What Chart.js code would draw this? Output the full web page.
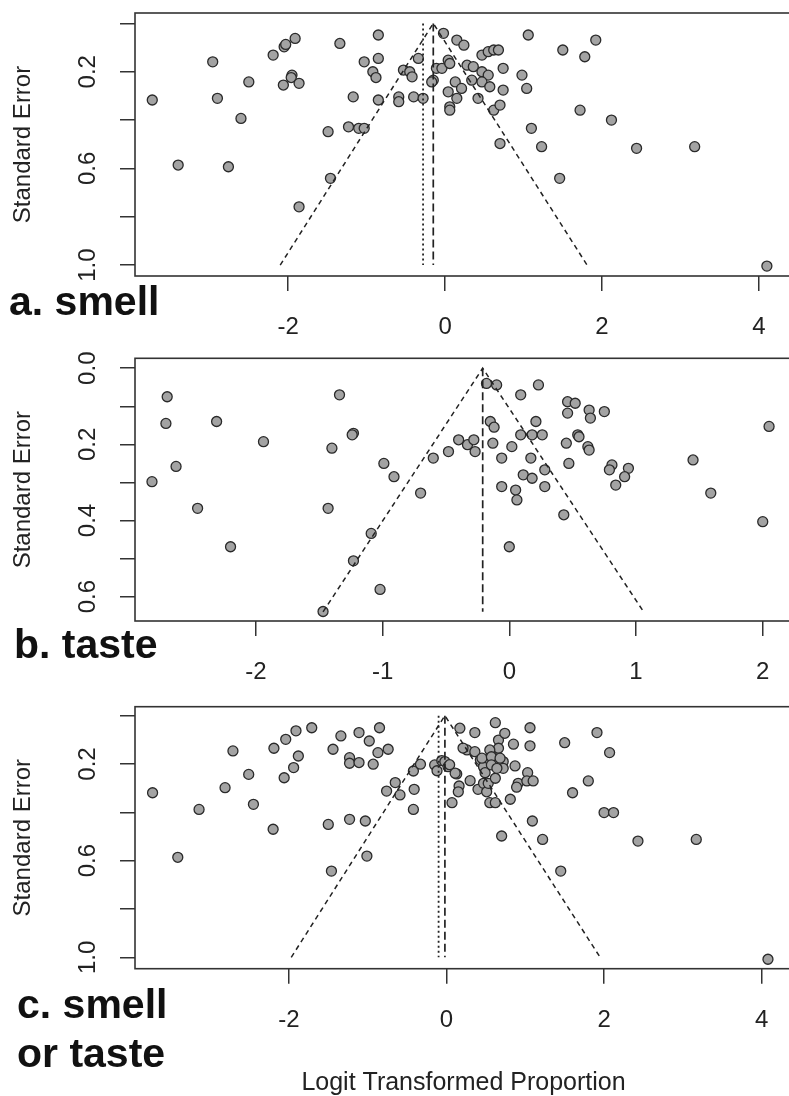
<!DOCTYPE html>
<html>
<head>
<meta charset="utf-8">
<script src="https://cdn.jsdelivr.net/npm/chart.js@4.4.1/dist/chart.umd.min.js"></script>
<style>
  html, body { margin: 0; padding: 0; background: #fff; width: 789px; height: 1096px; overflow: hidden; position: relative; }
  canvas { position: absolute; left: 0; }
  .lab { position: absolute; font: bold 41px 'Liberation Sans', Arial, sans-serif; color: #111; line-height: 49px; white-space: nowrap; }
</style>
</head>
<body>
<canvas id="panelA" width="800" height="350" style="top:0px"></canvas>
<canvas id="panelB" width="800" height="360" style="top:330px"></canvas>
<canvas id="panelC" width="800" height="406" style="top:690px"></canvas>
<div class="lab" style="left:9px;top:277px">a. smell</div>
<div class="lab" style="left:14px;top:620px">b. taste</div>
<div class="lab" style="left:17px;top:980px">c. smell<br>or taste</div>
<script>
// a. smell: logit proportion vs standard error
const smellX = [-3.73, -3.40, -2.96, -2.90, -2.76, -2.60, -2.50, -2.19, -2.05, -2.03, -1.91, -2.06, -1.95, -1.96, -1.86,
  -1.86, -1.49, -1.46, -1.34, -1.23, -1.10, -1.03, -1.17, -1.03, -0.92, -0.88, -0.85, -0.85, -0.85,
  -0.59, -0.59, -0.40, -0.28, -0.53, -0.45, -0.42, -0.34, -0.02, 0.15, 0.24, 0.04, -0.11, -0.04, 0.06,
  -0.15, -0.17, 0.13, 0.04, 0.21, 0.15, 0.06, 0.06, 0.28, 0.36, 0.47, 0.55, 0.62, 0.68, 0.47, 0.55,
  0.34, 0.47, 0.57, 0.42, 0.62, 0.70, 0.74, 0.74, 0.70, 0.98, 1.04, 1.06, 1.10, 1.23, 1.46, 1.50,
  1.72, 1.78, 1.92, 2.12, 2.44, 3.18, 4.10];
const smellSE = [0.317, 0.586, 0.159, 0.310, 0.593, 0.393, 0.242, 0.131, 0.097, 0.087, 0.062, 0.255, 0.214, 0.224, 0.248,
  0.759, 0.448, 0.641, 0.083, 0.428, 0.434, 0.434, 0.304, 0.159, 0.200, 0.224, 0.048, 0.145, 0.317,
  0.304, 0.324, 0.304, 0.310, 0.193, 0.200, 0.221, 0.145, 0.041, 0.069, 0.090, 0.152, 0.186, 0.186, 0.166,
  0.235, 0.242, 0.242, 0.283, 0.269, 0.310, 0.345, 0.359, 0.173, 0.179, 0.131, 0.117, 0.110, 0.110, 0.200, 0.214,
  0.235, 0.242, 0.262, 0.310, 0.359, 0.338, 0.186, 0.276, 0.497, 0.214, 0.269, 0.048, 0.434, 0.510, 0.641, 0.110,
  0.359, 0.138, 0.069, 0.400, 0.517, 0.510, 1.004];

// b. taste
const tasteX = [-2.70, -2.71, -2.63, -2.82, -2.31, -2.46, -2.20, -1.94, -1.34, -1.23, -1.24, -1.40, -1.43, -1.23,
  -1.09, -1.02, -1.47, -0.99, -0.91, -0.70, -0.60, -0.48, -0.40, -0.33, -0.28, -0.27, -0.18, -0.10, -0.15,
  -0.12, -0.13, 0.09, 0.23, 0.21, 0.09, 0.18, 0.26, 0.02, -0.06, 0.17, 0.28, 0.11, 0.18, -0.06, 0.05, 0.06,
  0.28, 0.00, 0.43, 0.47, 0.45, 0.46, 0.52, 0.46, 0.63, 0.64, 0.75, 0.54, 0.55, 0.62, 0.63, 0.81, 0.79,
  0.94, 0.91, 0.84, 1.45, 1.59, 2.00, 2.05];
const tasteSE = [0.075, 0.145, 0.258, 0.298, 0.140, 0.368, 0.469, 0.193, 0.070, 0.171, 0.175, 0.210, 0.368, 0.506,
  0.434, 0.581, 0.639, 0.250, 0.285, 0.328, 0.236, 0.219, 0.188, 0.201, 0.188, 0.219, 0.040, 0.044, 0.140,
  0.155, 0.197, 0.070, 0.044, 0.140, 0.175, 0.175, 0.175, 0.206, 0.236, 0.236, 0.267, 0.280, 0.289, 0.311, 0.320, 0.346,
  0.311, 0.469, 0.385, 0.250, 0.197, 0.088, 0.092, 0.118, 0.110, 0.131, 0.114, 0.175, 0.180, 0.206, 0.215, 0.254, 0.267,
  0.263, 0.285, 0.307, 0.241, 0.328, 0.403, 0.153];

// c. smell or taste
const anyX = [-3.73, -3.41, -3.14, -2.81, -2.71, -2.51, -2.45, -2.20, -2.19, -2.04, -1.91, -1.71, -2.06, -1.94, -1.88,
  -1.50, -1.46, -1.44, -1.34, -1.23, -1.03, -1.01, -1.23, -1.23, -1.11, -1.11, -0.98, -0.93, -0.87, -0.85,
  -0.74, -0.76, -0.65, -0.59, -0.42, -0.41, -0.42, -0.33, -0.15, -0.12, -0.06, -0.02, 0.02, 0.07, 0.13, 0.17,
  0.16, 0.15, 0.30, 0.36, 0.26, 0.36, 0.43, 0.40, 0.47, 0.49, 0.47, 0.51, 0.53, 0.55, 0.57, 0.62, 0.66, 0.66,
  0.74, 0.62, 0.64, 0.72, 0.72, 0.55, 0.62, 0.85, 0.87, 0.81, 0.91, 0.89, 1.03, 1.06, 1.06, 1.02, 1.10, 1.09,
  0.70, 1.22, 1.45, 1.50, 1.60, 1.80, 1.91, 2.07, 2.00, 2.12, 2.43, 3.17, 4.08,
  0.21, 0.45, 0.55, 0.57, 0.68, 0.57, 0.64, 0.04, 0.11];
const anySE = [0.319, 0.586, 0.388, 0.298, 0.146, 0.243, 0.367, 0.470, 0.135, 0.098, 0.063, 0.050, 0.257, 0.215, 0.167,
  0.450, 0.643, 0.139, 0.084, 0.429, 0.436, 0.581, 0.174, 0.197, 0.194, 0.070, 0.105, 0.201, 0.153, 0.050,
  0.139, 0.312, 0.277, 0.328, 0.388, 0.305, 0.229, 0.201, 0.204, 0.228, 0.186, 0.190, 0.211, 0.360, 0.241, 0.052,
  0.291, 0.315, 0.269, 0.070, 0.142, 0.149, 0.183, 0.305, 0.211, 0.236, 0.280, 0.315, 0.280, 0.183, 0.149, 0.029, 0.101, 0.135,
  0.073, 0.259, 0.183, 0.190, 0.218, 0.360, 0.360, 0.118, 0.208, 0.346, 0.280, 0.296, 0.236, 0.050, 0.125, 0.270, 0.270, 0.436,
  0.498, 0.512, 0.643, 0.112, 0.319, 0.270, 0.070, 0.153, 0.401, 0.401, 0.519, 0.512, 1.008,
  0.134, 0.176, 0.142, 0.170, 0.176, 0.204, 0.218, 0.203, 0.238];

// funnel outlines (left bottom, apex, right bottom) and vertical estimate lines
const funnelAX = [-2.10, -0.15, 1.81], funnelAY = [1.0, 0, 1.0];
const funnelBX = [-1.47, -0.21, 1.06], funnelBY = [0.64, 0, 0.64];
const funnelCX = [-1.97, -0.02, 1.95], funnelCY = [1.0, 0, 1.0];
const estA = -0.15, estDotA = -0.28;
const estB = -0.21;
const estC = -0.02, estDotC = -0.10;

// axes
const xTicksAC = [-2, 0, 2, 4], xLabelsAC = ['-2', '0', '2', '4'];
const xTicksB = [-2, -1, 0, 1, 2], xLabelsB = ['-2', '-1', '0', '1', '2'];
const yTicksAC = [0, 0.2, 0.4, 0.6, 0.8, 1.0], yLabelsAC = ['', '0.2', '', '0.6', '', '1.0'];
const yTicksB = [0, 0.1, 0.2, 0.3, 0.4, 0.5, 0.6], yLabelsB = ['0.0', '', '0.2', '', '0.4', '', '0.6'];

const FONT = "'Liberation Sans', Arial, sans-serif";
const INK = '#222';

const boxPlugin = {
  id: 'box',
  afterDraw(chart) {
    const { ctx, chartArea: a } = chart;
    ctx.save();
    ctx.strokeStyle = '#333';
    ctx.lineWidth = 1.6;
    ctx.strokeRect(a.left, a.top, a.right - a.left, a.bottom - a.top);
    ctx.restore();
  }
};

function pts(xs, ys) {
  return xs.map((x, i) => ({ x: x, y: ys[i] }));
}

function line(data, dash, width) {
  return { data: data, showLine: true, borderColor: '#222', borderWidth: width || 1.5, borderDash: dash,
    pointRadius: 0, pointHoverRadius: 0, fill: false, order: 0 };
}

function funnelPlot(id, p) {
  const datasets = [
    line(pts(p.funnelX, p.funnelY), [5, 4]),
    line([{ x: p.est, y: 0 }, { x: p.est, y: p.seMax }], [8, 4], 1.7),
    { data: pts(p.xs, p.ys), pointRadius: 5, pointBackgroundColor: '#a3a3a3',
      pointBorderColor: '#2a2a2a', pointBorderWidth: 1.3, order: 1 }
  ];
  if (p.estDot !== undefined) {
    datasets.push(line([{ x: p.estDot, y: 0 }, { x: p.estDot, y: p.seMax }], [2, 3], 1.8));
  }
  const grid = { drawOnChartArea: false, drawTicks: true, tickLength: 15, color: '#333', lineWidth: 1.5 };
  return new Chart(document.getElementById(id), {
    type: 'scatter',
    data: { datasets: datasets },
    options: {
      responsive: false,
      animation: false,
      layout: { padding: { top: p.top, right: 8, bottom: 0, left: 0 } },
      plugins: { legend: { display: false }, tooltip: { enabled: false } },
      scales: {
        x: {
          type: 'linear', min: p.xMin, max: p.xMax,
          afterBuildTicks: s => { s.ticks = p.xTicks.map(v => ({ value: v })); },
          afterFit: s => { s.height = p.xHeight; s.paddingLeft = 0; s.paddingRight = 0; },
          grid: grid, border: { display: false },
          ticks: { font: { family: FONT, size: 24 }, color: INK, padding: 22, maxRotation: 0, autoSkip: false,
            callback: (v, i) => p.xLabels[i] },
          title: p.xTitle ? { display: true, text: p.xTitle, color: INK, font: { family: FONT, size: 25, lineHeight: 1.0 },
            padding: { top: 0, bottom: 0 } } : { display: false }
        },
        y: {
          type: 'linear', reverse: true, min: p.yMin, max: p.yMax,
          afterBuildTicks: s => { s.ticks = p.yTicks.map(v => ({ value: v })); },
          afterFit: s => { s.width = 135; s.paddingTop = 0; s.paddingBottom = 0; },
          grid: grid, border: { display: false },
          ticks: { font: { family: FONT, size: 24 }, color: INK, padding: 15, minRotation: 90, maxRotation: 90,
            crossAlign: 'center', autoSkip: false, callback: (v, i) => p.yLabels[i] },
          title: { display: true, text: 'Standard Error', color: INK, font: { family: FONT, size: 24 },
            padding: { top: 9, bottom: 0 } }
        }
      }
    },
    plugins: [boxPlugin]
  });
}

funnelPlot('panelA', {
  xs: smellX, ys: smellSE, funnelX: funnelAX, funnelY: funnelAY, est: estA, estDot: estDotA, seMax: 1.0,
  xMin: -3.95, xMax: 4.42, yMin: -0.043, yMax: 1.045, top: 13, xHeight: 74,
  xTicks: xTicksAC, xLabels: xLabelsAC, yTicks: yTicksAC, yLabels: yLabelsAC
});
funnelPlot('panelB', {
  xs: tasteX, ys: tasteSE, funnelX: funnelBX, funnelY: funnelBY, est: estB, seMax: 0.64,
  xMin: -2.954, xMax: 2.231, yMin: -0.026, yMax: 0.664, top: 28.3, xHeight: 69,
  xTicks: xTicksB, xLabels: xLabelsB, yTicks: yTicksB, yLabels: yLabelsB
});
funnelPlot('panelC', {
  xs: anyX, ys: anySE, funnelX: funnelCX, funnelY: funnelCY, est: estC, estDot: estDotC, seMax: 1.0,
  xMin: -3.953, xMax: 4.385, yMin: -0.037, yMax: 1.047, top: 16.7, xHeight: 127.3,
  xTicks: xTicksAC, xLabels: xLabelsAC, yTicks: yTicksAC, yLabels: yLabelsAC,
  xTitle: 'Logit Transformed Proportion'
});
</script>
</body>
</html>
